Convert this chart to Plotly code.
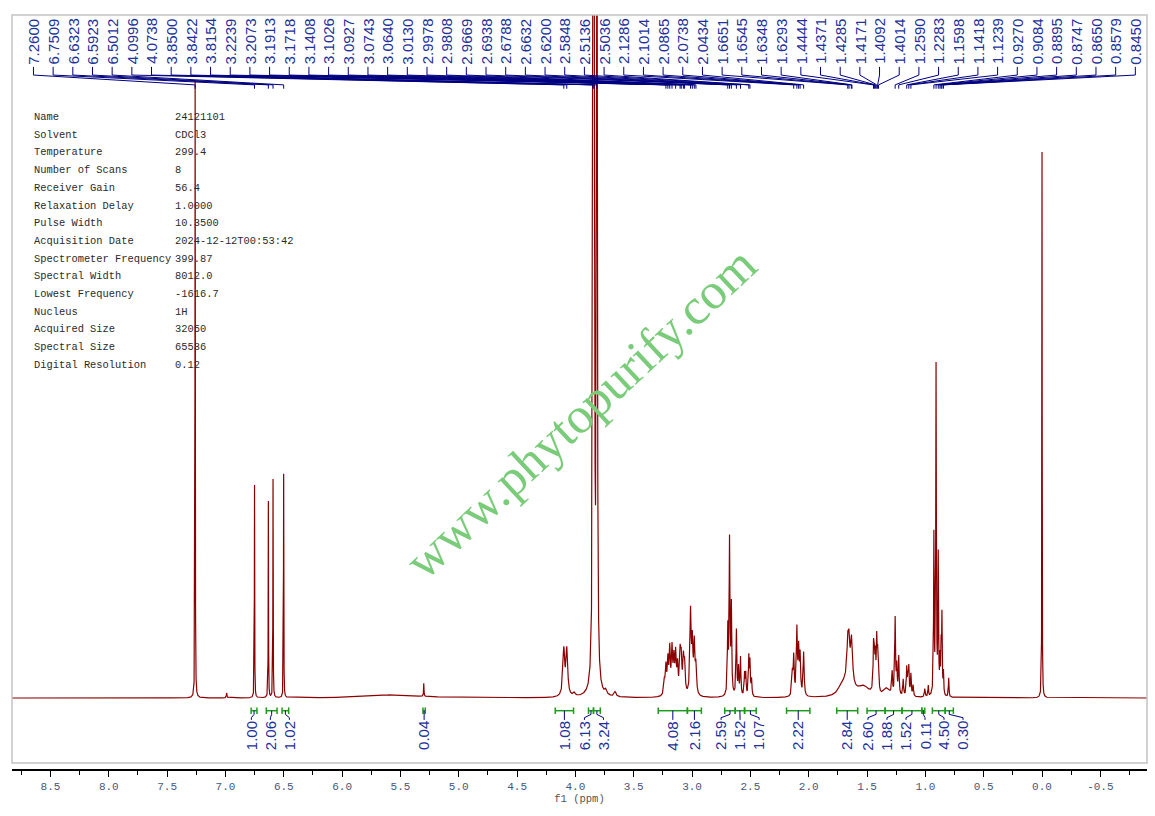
import numpy as np
import plotly.graph_objects as go

# ---------------- data ----------------
# spectrum peaks: chemical shift (ppm), height (TMS = 100), half-width (ppm)
peak_ppm = [7.2600, 6.99, 6.7509, 6.6323, 6.5923, 6.5012, 5.30, 5.55,
            4.0996, 4.0738, 4.01, 3.8500, 3.8422, 3.8154, 3.74, 3.66,
            3.2380, 3.2239, 3.2073, 3.1913, 3.1718, 3.1560, 3.1408, 3.1250,
            3.1026, 3.0927, 3.0743, 3.0640, 3.0130, 2.9978, 2.9808, 2.9669,
            2.6938, 2.6788, 2.6632, 2.6200, 2.6020, 2.5848, 2.5500, 2.5400,
            2.5136, 2.5036, 2.4900,
            2.1400, 2.1286, 2.1014, 2.0865, 2.0738, 2.0434,
            1.6651, 1.6545, 1.6348, 1.6293, 1.6600, 1.5300, 1.7200,
            1.4444, 1.4371, 1.4285, 1.4171, 1.4092, 1.4014, 1.3300,
            1.2850, 1.2590, 1.2450, 1.2283, 1.1900, 1.1598, 1.1500, 1.1418,
            1.1239, 1.1050, 1.0050,
            0.9750, 0.9270, 0.9084, 0.8895, 0.8747, 0.8650, 0.8579, 0.8450,
            0.8000, 0.0000]
peak_height = [113, 0.9, 39, 36, 40, 41, 2.4, 0.6,
               8.4, 8.4, 0.6, 90, 260, 160, 0.8, 0.9,
               2.5, 5, 6, 8, 8, 6, 7, 5,
               7, 6, 6, 5, 15, 9, 9, 5,
               12, 28, 16, 12, 5, 7, 4, 4,
               7, 6, 3,
               4, 7, 12, 8, 7, 8,
               5.5, 5.5, 4.5, 4, 3.5, 1.8, 1.5,
               8, 6, 6, 9, 6, 4, 1.5,
               4, 14, 5, 7, 3, 5, 3, 5,
               4, 2, 1.5,
               2, 29, 60, 25, 6, 8, 14, 4,
               3.5, 100]
peak_width = [0.0015, 0.003, 0.0015, 0.0015, 0.0015, 0.0015, 0.002, 0.25,
              0.009, 0.009, 0.01, 0.003, 0.004, 0.004, 0.01, 0.01,
              0.006, 0.006, 0.006, 0.006, 0.006, 0.006, 0.006, 0.006,
              0.006, 0.006, 0.006, 0.006, 0.006, 0.006, 0.006, 0.006,
              0.004, 0.004, 0.004, 0.004, 0.004, 0.004, 0.004, 0.004,
              0.004, 0.004, 0.004,
              0.005, 0.005, 0.005, 0.005, 0.005, 0.005,
              0.008, 0.008, 0.008, 0.008, 0.04, 0.06, 0.03,
              0.004, 0.004, 0.004, 0.004, 0.004, 0.004, 0.03,
              0.004, 0.004, 0.004, 0.004, 0.004, 0.004, 0.004, 0.004,
              0.004, 0.004, 0.004,
              0.003, 0.003, 0.003, 0.003, 0.003, 0.003, 0.003, 0.003,
              0.003, 0.0015]

# peak-pick labels along the top
peak_labels = ["7.2600", "6.7509", "6.6323", "6.5923", "6.5012", "4.0996", "4.0738",
               "3.8500", "3.8422", "3.8154", "3.2239", "3.2073", "3.1913", "3.1718",
               "3.1408", "3.1026", "3.0927", "3.0743", "3.0640", "3.0130", "2.9978",
               "2.9808", "2.9669", "2.6938", "2.6788", "2.6632", "2.6200", "2.5848",
               "2.5136", "2.5036", "2.1286", "2.1014", "2.0865", "2.0738", "2.0434",
               "1.6651", "1.6545", "1.6348", "1.6293", "1.4444", "1.4371", "1.4285",
               "1.4171", "1.4092", "1.4014", "1.2590", "1.2283", "1.1598", "1.1418",
               "1.1239", "0.9270", "0.9084", "0.8895", "0.8747", "0.8650", "0.8579",
               "0.8450"]

# integration regions
int_start = [6.78, 6.65, 6.515, 5.307, 4.173, 3.888, 3.845, 3.29, 3.04, 2.72,
             2.63, 2.55, 2.19, 1.76, 1.50, 1.345, 1.20, 1.03, 0.94, 0.83]
int_end = [6.73, 6.558, 6.458, 5.287, 4.016, 3.845, 3.787, 3.04, 2.92, 2.63,
           2.55, 2.45, 1.99, 1.58, 1.345, 1.20, 1.03, 1.005, 0.83, 0.76]
int_values = ["1.00", "2.06", "1.02", "0.04", "1.08", "6.13", "3.24", "4.08",
              "2.16", "2.59", "1.52", "1.07", "2.22", "2.84", "2.60", "1.88",
              "1.52", "0.11", "4.50", "0.30"]

# x-axis tick labels
tick_labels = ["8.5", "8.0", "7.5", "7.0", "6.5", "6.0", "5.5", "5.0", "4.5", "4.0",
               "3.5", "3.0", "2.5", "2.0", "1.5", "1.0", "0.5", "0.0", "-0.5"]

# acquisition parameters
param_names = ["Name", "Solvent", "Temperature", "Number of Scans", "Receiver Gain",
               "Relaxation Delay", "Pulse Width", "Acquisition Date",
               "Spectrometer Frequency", "Spectral Width", "Lowest Frequency",
               "Nucleus", "Acquired Size", "Spectral Size", "Digital Resolution"]
param_values = ["24121101", "CDCl3", "299.4", "8", "56.4", "1.0000", "10.3500",
                "2024-12-12T00:53:42", "399.87", "8012.0", "-1616.7", "1H",
                "32050", "65536", "0.12"]

# ---------------- build figure ----------------
X_LEFT, X_RIGHT = 8.83, -0.90
Y_MIN, Y_MAX = -13.0, 125.1

grid = np.union1d(np.arange(X_RIGHT, X_LEFT, 0.0005), np.array(peak_ppm))
spec = np.zeros_like(grid)
for p, h, w in zip(peak_ppm, peak_height, peak_width):
    spec += h / (1.0 + ((grid - p) / w) ** 2)

fig = go.Figure()
fig.add_trace(go.Scatter(x=grid, y=spec, mode="lines",
                         line=dict(color="#8b0000", width=1.2), hoverinfo="skip"))

LABEL_COLOR = "#22319a"
LINE_NAVY = "#000080"
GREEN = "#1e9a1e"

# top peak labels, evenly spread over the axis
n_lab = len(peak_labels)
lab_x = np.linspace(8.646, -0.800, n_lab)
cx, cy = [], []
for lx, lab in zip(lab_x, peak_labels):
    p = float(lab)
    cx += [lx, lx, p, p, None]
    cy += [115.6, 114.1, 112.3, 111.6, None]
    fig.add_annotation(x=lx, y=115.7, text=lab, showarrow=False, textangle=-90,
                       xanchor="center", yanchor="bottom",
                       font=dict(family="Liberation Sans", size=15, color=LABEL_COLOR))
fig.add_trace(go.Scatter(x=cx, y=cy, mode="lines",
                         line=dict(color=LINE_NAVY, width=1), hoverinfo="skip"))

# integration bars
Y_BAR = -2.32
bx, by = [], []
for s, e in zip(int_start, int_end):
    bx += [s, s, None, s, e, None, e, e, None]
    by += [Y_BAR - 0.6, Y_BAR + 0.6, None, Y_BAR, Y_BAR, None, Y_BAR - 0.6, Y_BAR + 0.6, None]
fig.add_trace(go.Scatter(x=bx, y=by, mode="lines",
                         line=dict(color=GREEN, width=1.5), hoverinfo="skip"))

# integral label placement (simple repulsion so labels do not overlap)
mids = [(s + e) / 2 for s, e in zip(int_start, int_end)]
pos = list(mids)
min_gap = 0.163
for _ in range(600):
    for i in range(len(pos) - 1):
        gap = pos[i] - pos[i + 1]
        if gap < min_gap:
            sh = (min_gap - gap) / 2
            pos[i] += sh
            pos[i + 1] -= sh
ix, iy = [], []
for m, lp, v in zip(mids, pos, int_values):
    ix += [m, m, lp, lp, None]
    iy += [Y_BAR, -3.0, -3.6, -4.0, None]
    fig.add_annotation(x=lp, y=-3.9, text=v, showarrow=False, textangle=-90,
                       xanchor="center", yanchor="top",
                       font=dict(family="Liberation Sans", size=15, color=LABEL_COLOR))
fig.add_trace(go.Scatter(x=ix, y=iy, mode="lines",
                         line=dict(color=LINE_NAVY, width=1), hoverinfo="skip"))

# parameter table
for i, (nm, val) in enumerate(zip(param_names, param_values)):
    ypx = 117 + 17.7 * i
    yp = (769 - ypx) / 754
    fig.add_annotation(xref="paper", yref="paper", x=0.0176, y=yp, text=nm,
                       showarrow=False, xanchor="left", yanchor="middle",
                       font=dict(family="Liberation Mono", size=10.4, color="#2a2a2a"))
    fig.add_annotation(xref="paper", yref="paper", x=0.1419, y=yp, text=val,
                       showarrow=False, xanchor="left", yanchor="middle",
                       font=dict(family="Liberation Mono", size=10.4, color="#2a2a2a"))

# watermark
fig.add_annotation(xref="paper", yref="paper", x=0.501, y=0.472,
                   text="www.phytopurify.com", showarrow=False, textangle=-43,
                   font=dict(family="Liberation Serif", size=51, color="rgb(122,204,122)"))

# frame
fig.add_shape(type="rect", xref="paper", yref="paper", x0=0, x1=1, y0=0.008, y1=1,
              line=dict(color="#c4c4c4", width=1.5))

fig.update_layout(
    width=1155, height=816,
    margin=dict(l=12, r=8, t=15, b=47),
    plot_bgcolor="white", paper_bgcolor="white",
    showlegend=False,
    xaxis=dict(range=[X_LEFT, X_RIGHT], showgrid=False, zeroline=False,
               showline=True, linecolor="black", linewidth=1.5,
               ticks="outside", ticklen=6, tickwidth=1.3, tickcolor="black",
               tickvals=[float(t) for t in tick_labels], ticktext=tick_labels,
               tickfont=dict(family="Liberation Mono", size=11, color="#46577c"),
               minor=dict(ticks="outside", ticklen=4, tickwidth=1, tickcolor="black",
                          dtick=0.25, tick0=0),
               title=dict(text="f1 (ppm)", standoff=2,
                          font=dict(family="Liberation Mono", size=10.5, color="#555555"))),
    yaxis=dict(range=[Y_MIN, Y_MAX], visible=False),
)

fig.write_html("out.html", config={"displayModeBar": False},
               post_script="document.body.style.margin='0px';")
